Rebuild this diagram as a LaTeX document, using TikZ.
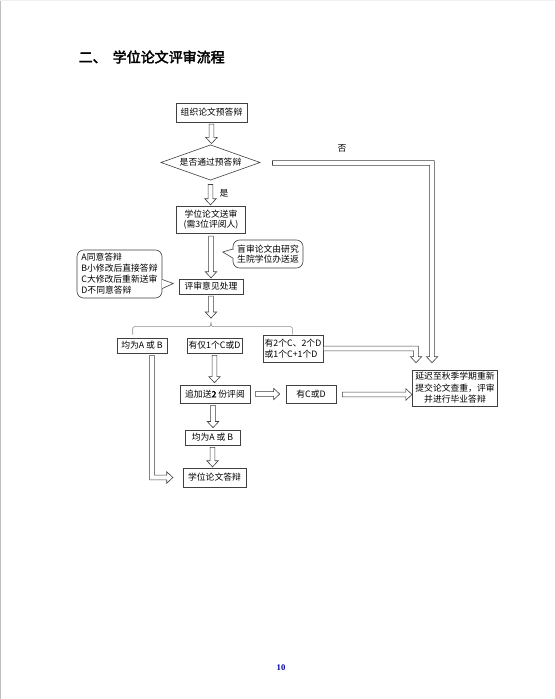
\documentclass[tikz,border=0pt]{standalone}
\usepackage{fontspec}
\setmainfont{Liberation Serif}
\newfontfamily\cjk{Noto Sans CJK SC}
\newfontfamily\cjkbold[FakeBold=2.5]{Noto Sans CJK SC}
\usetikzlibrary{calc,shapes.geometric}
\def\harsw{1.8pt}
\def\harhw{4.3pt}
\def\harhl{4.6pt}
\newcommand\hdown[2]{\draw[harrow] let \p1=#1, \p2=#2 in
  (\x1-\harsw,\y1) -- (\x1-\harsw,\y2+\harhl) -- (\x1-\harhw,\y2+\harhl) -- (\x1,\y2)
  -- (\x1+\harhw,\y2+\harhl) -- (\x1+\harsw,\y2+\harhl) -- (\x1+\harsw,\y1) -- cycle;}
\newcommand\hright[2]{\draw[harrow] let \p1=#1, \p2=#2 in
  (\x1,\y1+\harsw) -- (\x2-\harhl,\y1+\harsw) -- (\x2-\harhl,\y1+\harhw) -- (\x2,\y1)
  -- (\x2-\harhl,\y1-\harhw) -- (\x2-\harhl,\y1-\harsw) -- (\x1,\y1-\harsw) -- cycle;}
% right then down: #1 start (left end, shaft centre y), #2 tip
\newcommand\hrd[2]{\draw[harrow] let \p1=#1, \p2=#2 in
  (\x1,\y1+\harsw) -- (\x2+\harsw,\y1+\harsw) -- (\x2+\harsw,\y2+\harhl) -- (\x2+\harhw,\y2+\harhl)
  -- (\x2,\y2) -- (\x2-\harhw,\y2+\harhl) -- (\x2-\harsw,\y2+\harhl) -- (\x2-\harsw,\y1-\harsw)
  -- (\x1,\y1-\harsw) -- cycle;}
% down then right: #1 start (top, shaft centre x), #2 tip
\newcommand\hdr[2]{\draw[harrow] let \p1=#1, \p2=#2 in
  (\x1-\harsw,\y1) -- (\x1-\harsw,\y2-\harsw) -- (\x2-\harhl,\y2-\harsw) -- (\x2-\harhl,\y2-\harhw)
  -- (\x2,\y2) -- (\x2-\harhl,\y2+\harhw) -- (\x2-\harhl,\y2+\harsw) -- (\x1+\harsw,\y2+\harsw)
  -- (\x1+\harsw,\y1) -- cycle;}
\begin{document}
\begin{tikzpicture}[x=0.75pt,y=-0.75pt,
  font=\cjk\fontsize{6.6}{8}\selectfont,
  box/.style={draw=black!75, line width=0.45pt, inner sep=0pt, align=center},
  cbox/.style={draw=black!75, line width=0.45pt, inner sep=0pt, rounded corners=5pt},
  harrow/.style={draw=black!75, line width=0.45pt, fill=white, line join=miter}]
\useasboundingbox (0,0) rectangle (555,699);
\fill[white] (0,0) rectangle (555,699);
\fill[black!25] (0,0) rectangle (1.3,699);
\fill[black!6] (0,0) rectangle (555,1.5);

\node[anchor=west, font=\cjkbold\fontsize{10.5}{12}\selectfont] (title) at (74,57) {二、\hspace{4.5pt}学位论文评审流程};

\node[box, minimum width=53pt, minimum height=14pt] (n1) at (211.5,112.5) {组织论文预答辩};
\node[diamond, aspect=4, draw=black!75, line width=0.45pt, inner sep=0pt,
      minimum width=74.5pt, minimum height=26.5pt] (dia) at (210.5,162.5) {是否通过预答辩};
\node[box, minimum width=52pt, minimum height=20pt] (n2) at (211,219.5) {学位论文送审\\(需3位评阅人)};
\node[box, minimum width=48pt, minimum height=11pt] (n3) at (211,286.5) {评审意见处理};

\node[cbox, minimum width=52.5pt, minimum height=21pt, align=left] (c1) at (268,254) {盲审论文由研究\\生院学位办送返};
\node[cbox, minimum width=63.75pt, minimum height=36pt, align=left, font=\cjk\fontsize{6.6}{8.2}\selectfont] (c2) at (119.5,274)
  {A同意答辩\\B小修改后直接答辩\\C大修改后重新送审\\D不同意答辩};

\node[box, minimum width=37.5pt, minimum height=11.3pt] (n4) at (142,345.5) {均为A 或 B};
\node[box, minimum width=41pt, minimum height=11.3pt] (n5) at (214.5,345.5) {有仅1个C或D};
\node[box, minimum width=45pt, minimum height=20pt, align=left] (n6) at (293,348.5) {有2个C、2个D\\或1个C+1个D};
\node[box, minimum width=64pt, minimum height=27pt, font=\cjk\fontsize{6.6}{8.6}\selectfont] (n7) at (455,388) {延迟至秋季学期重新\\提交论文查重，评审\\并进行毕业答辩};
\node[box, minimum width=52.5pt, minimum height=13.5pt] (n8) at (215,394) {追加送{\cjkbold 2} 份评阅};
\node[box, minimum width=37.5pt, minimum height=13.5pt] (n9) at (311,394) {有C或D};
\node[box, minimum width=41pt, minimum height=11.3pt] (n10) at (212.5,437.5) {均为A 或 B};
\node[box, minimum width=47pt, minimum height=14pt] (n11) at (214.5,477.5) {学位论文答辩};

\node (yes) at (224,193) {是};
\node (no) at (342,148) {否};

% callout pointers
\fill[white] ($(c1.west)+(-0.8,-4.3)$) rectangle ($(c1.west)+(0.8,4.3)$);
\draw[black!75, line width=0.45pt, line join=miter] ($(c1.west)+(0,-5)$) -- ($(c1.west)+(-10,-2)$) -- ($(c1.west)+(0,4)$);
\fill[white] ($(c2.east)+(-0.8,6.2)$) rectangle ($(c2.east)+(0.8,13.8)$);
\draw[black!75, line width=0.45pt, line join=miter] ($(c2.east)+(0,5.5)$) -- ($(c2.east)+(11,9.5)$) -- ($(c2.east)+(0,14.5)$);

% bracket grouping the three outcomes
\coordinate (bl) at ($(n4.north west)+(16,-3)$);
\coordinate (br) at ($(n6.north east)+(-31,-0)$);
\coordinate (bm) at ($(n3.south)+(0,35)$);
\draw[black!45, line width=0.45pt]
  let \p1=(bl), \p2=(br), \p3=(bm) in
  (\x1,\y1) -- (\x1,\y1+5pt) .. controls (\x1,\y1+6pt) .. (\x1+1pt,\y1+6pt)
  -- (\x3-3pt,\y1+6pt) .. controls (\x3-0.5pt,\y1+6pt) .. (\x3,\y1+9pt)
  .. controls (\x3+0.5pt,\y1+6pt) .. (\x3+3pt,\y1+6pt)
  -- (\x2-1pt,\y1+6pt) .. controls (\x2,\y1+6pt) .. (\x2,\y1+5pt) -- (\x2,\y1);

% hollow arrows
\hdown{($(n1.south)+(0,2)$)}{($(dia.north)+(0,-1)$)}
\hdown{($(dia.south)+(0,4)$)}{($(n2.north)+(0,-1)$)}
\hdown{($(n2.south)+(0,3)$)}{($(n3.north)+(0,-1)$)}
\hdown{($(n3.south)+(0,2)$)}{($(n3.south)+(0,24)$)}
\hdown{($(n5.south)+(0,2)$)}{($(n8.north)+(-1,-2)$)}
\hdown{($(n8.south)+(-2,2)$)}{($(n10.north)+(0,-2)$)}
\hdown{($(n10.south)+(0,2)$)}{($(n11.north)+(-1.5,-1)$)}
\hright{($(n8.east)+(5,0)$)}{($(n9.west)+(-6,0)$)}
\hright{($(n9.east)+(6,0.5)$)}{($(n7.west|-n9.east)+(0,0.5)$)}
\hrd{($(dia.east)+(12,0.5)$)}{($(n7.north west)+(20,-7)$)}
\hrd{($(n6.east)+(0,0)$)}{($(n7.north west)+(4,-7)$)}
\hdr{($(n4.south)+(10,2)$)}{($(n11.west)+(-10,0)$)}

\node[font=\bfseries\fontsize{6.5}{7}\selectfont, text=blue!65!black] (pg) at (281,668) {10};
\end{tikzpicture}
\end{document}
